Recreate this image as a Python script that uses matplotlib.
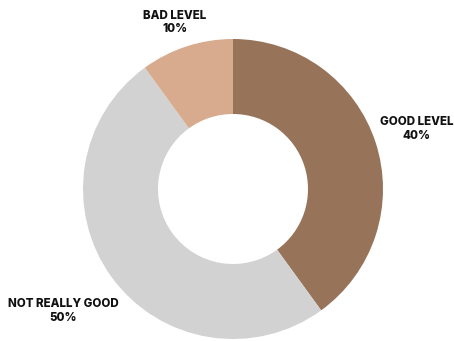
import matplotlib.pyplot as plt

labels = ['GOOD LEVEL', 'NOT REALLY GOOD', 'BAD LEVEL']
shares = [40, 50, 10]
colors = ['#97735A', '#D2D2D2', '#D9AB8E']
# label anchor points in axes data units (pie radius = 1)
label_pos = [(1.225, 0.40), (-1.13, -0.815), (-0.39, 1.11)]

fig = plt.figure(figsize=(4.54, 3.41), dpi=100)
ax = fig.add_axes([83/454, 2/341, 300/454, 300/341])

ax.pie(shares, colors=colors, startangle=90, counterclock=False,
       radius=1, wedgeprops=dict(width=0.5, linewidth=0))
ax.set_xlim(-1, 1)
ax.set_ylim(-1, 1)
ax.set_aspect('equal')
ax.axis('off')

for lab, val, (x, y) in zip(labels, shares, label_pos):
    ax.text(x, y, f'{lab}\n{val}%', ha='center', va='center',
            fontsize=8.3, fontweight='heavy', family='Inter',
            color='#111111', linespacing=1.2, clip_on=False)

fig.savefig('out.png', dpi=100)
